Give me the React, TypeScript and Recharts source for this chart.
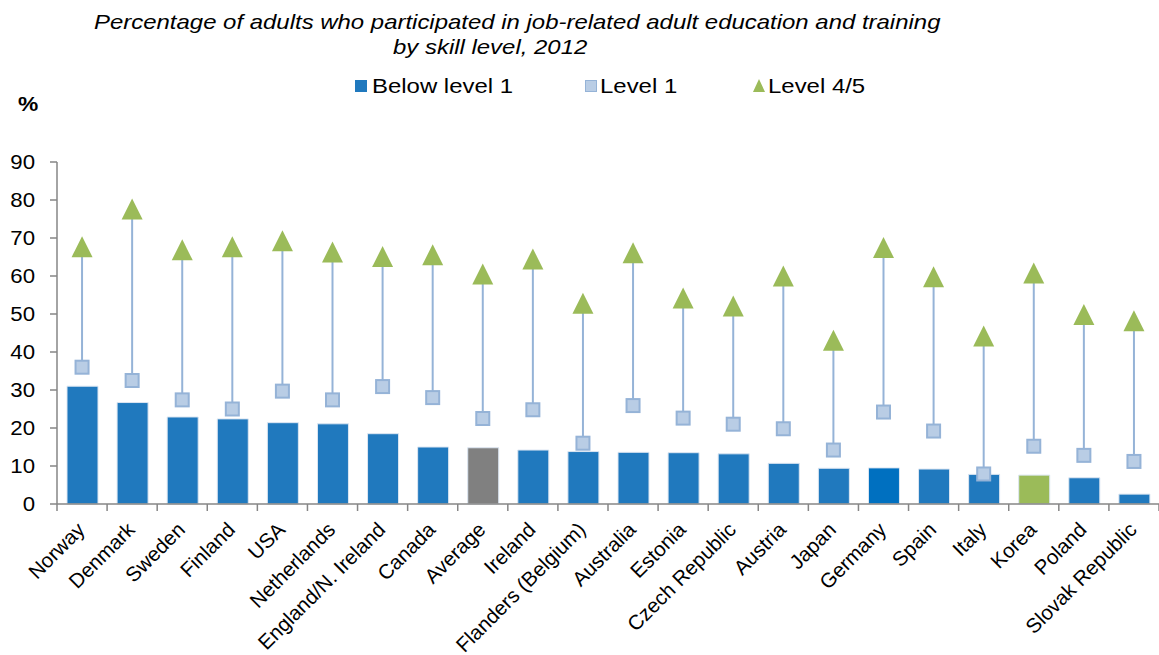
import { ComposedChart, Bar, Line, XAxis, YAxis, ErrorBar, Cell } from 'recharts';

const categories = [
  'Norway', 'Denmark', 'Sweden', 'Finland', 'USA', 'Netherlands', 'England/N. Ireland',
  'Canada', 'Average', 'Ireland', 'Flanders (Belgium)', 'Australia', 'Estonia',
  'Czech Republic', 'Austria', 'Japan', 'Germany', 'Spain', 'Italy', 'Korea', 'Poland',
  'Slovak Republic',
];
const belowLevel1 = [31.0, 26.7, 22.9, 22.4, 21.4, 21.1, 18.5, 15.0, 14.8, 14.2, 13.8, 13.6, 13.5, 13.2, 10.7, 9.4, 9.5, 9.2, 7.8, 7.6, 6.9, 2.6];
const level1 = [36.0, 32.5, 27.4, 25.0, 29.7, 27.4, 30.9, 28.0, 22.5, 24.8, 16.0, 25.9, 22.6, 21.0, 19.8, 14.2, 24.2, 19.2, 7.9, 15.2, 12.8, 11.2];
const level45 = [67.7, 77.6, 66.9, 67.7, 69.3, 66.3, 65.1, 65.6, 60.5, 64.5, 52.8, 66.1, 54.2, 52.1, 60.0, 43.1, 67.5, 59.8, 44.2, 60.8, 49.9, 48.2];
const yTicks = [0, 10, 20, 30, 40, 50, 60, 70, 80, 90];

const data = categories.map((name, i) => ({
  name,
  below: belowLevel1[i],
  l1: level1[i],
  l45: level45[i],
}));

const FONT = '"Liberation Sans", Arial, sans-serif';
const BLUE = '#2079BE';
const highlight: Record<string, string> = { Average: '#808080', Germany: '#0070C0', Korea: '#9BBB59' };

const W = 1159;
const H = 655;
const LEFT = 57;
const AXIS_Y = 504;
const BAND = (W - LEFT) / categories.length;
const STRETCH = 1.14; // the source text is a bit wide

function XTick(props: any) {
  const { x, payload, index } = props;
  const px = x + 4;
  const py = AXIS_Y + 27;
  return (
    <g>
      <line x1={x - BAND / 2} x2={x - BAND / 2} y1={AXIS_Y} y2={AXIS_Y + 7} stroke="#868686" strokeWidth={1.5} />
      {index === categories.length - 1 && (
        <line x1={x + BAND / 2} x2={x + BAND / 2} y1={AXIS_Y} y2={AXIS_Y + 7} stroke="#868686" strokeWidth={1.5} />
      )}
      <text
        x={px}
        y={py}
        textAnchor="end"
        fontSize={20.5}
        fontFamily={FONT}
        fill="#000"
        transform={`rotate(-45, ${px}, ${py})`}
      >
        {payload.value}
      </text>
    </g>
  );
}

function YTick(props: any) {
  const { y, payload } = props;
  return (
    <g transform={`translate(${LEFT - 22}, ${y + 7}) scale(${STRETCH}, 1)`}>
      <text x={0} y={0} textAnchor="end" fontSize={19.5} fontFamily={FONT} fill="#000">
        {payload.value}
      </text>
    </g>
  );
}

function SquareDot(props: any) {
  const { cx, cy, index } = props;
  return <rect key={`s${index}`} x={cx - 6.5} y={cy - 6.5} width={13} height={13} fill="#B9CDE5" stroke="#95B3D7" strokeWidth={2} />;
}

function TriDot(props: any) {
  const { cx, cy, index } = props;
  return (
    <path
      key={`t${index}`}
      d={`M${cx},${cy - 10.5} L${cx + 10.5},${cy + 10.5} L${cx - 10.5},${cy + 10.5} Z`}
      fill="#9BBB59"
    />
  );
}

const wide = { display: 'inline-block', transform: `scaleX(${STRETCH})`, transformOrigin: 'left' } as const;

export default function App() {
  return (
    <div style={{ position: 'absolute', left: 0, top: 0, width: W, height: H, fontFamily: FONT, background: '#fff' }}>
      <div style={{ position: 'absolute', left: 94, top: 11, fontSize: 21, fontStyle: 'italic', lineHeight: '22px', whiteSpace: 'nowrap' }}>
        <span style={wide}>Percentage of adults who participated in job-related adult education and training</span>
      </div>
      <div style={{ position: 'absolute', left: 393, top: 36, fontSize: 21, fontStyle: 'italic', lineHeight: '22px', whiteSpace: 'nowrap' }}>
        <span style={wide}>by skill level, 2012</span>
      </div>
      <div style={{ position: 'absolute', left: 18, top: 93, fontSize: 20, fontWeight: 'bold', lineHeight: '22px' }}>
        <span style={wide}>%</span>
      </div>
      <div style={{ position: 'absolute', left: 0, top: 75, fontSize: 21, lineHeight: '22px', whiteSpace: 'nowrap' }}>
        <span style={{ position: 'absolute', left: 355, top: 5, width: 12, height: 12, background: BLUE }} />
        <span style={{ ...wide, position: 'absolute', left: 372 }}>Below level 1</span>
        <span style={{ position: 'absolute', left: 585, top: 5, width: 10, height: 10, background: '#B9CDE5', border: '1px solid #95B3D7' }} />
        <span style={{ ...wide, position: 'absolute', left: 600 }}>Level 1</span>
        <svg style={{ position: 'absolute', left: 753, top: 4 }} width={12} height={13}>
          <path d="M6,0 L12,13 L0,13 Z" fill="#9BBB59" />
        </svg>
        <span style={{ ...wide, position: 'absolute', left: 768 }}>Level 4/5</span>
      </div>
      <ComposedChart width={W} height={H} data={data} margin={{ top: 162, right: 0, bottom: 0, left: 0 }}>
        <XAxis
          dataKey="name"
          interval={0}
          height={H - AXIS_Y}
          axisLine={{ stroke: '#868686', strokeWidth: 1.5 }}
          tickLine={false}
          tick={<XTick />}
        />
        <YAxis
          width={LEFT}
          domain={[0, 90]}
          ticks={yTicks}
          interval={0}
          axisLine={{ stroke: '#868686', strokeWidth: 1.5 }}
          tickLine={{ stroke: '#868686', strokeWidth: 1.5 }}
          tickSize={7}
          tick={<YTick />}
        />
        <Bar dataKey="below" barSize={31} isAnimationActive={false} stroke="#DCE6F2" strokeWidth={1}>
          {data.map((d) => (
            <Cell key={d.name} fill={highlight[d.name] ?? BLUE} />
          ))}
        </Bar>
        <Line dataKey="l1" stroke="none" dot={SquareDot} activeDot={false} isAnimationActive={false}>
          <ErrorBar
            dataKey={(d: any) => [0, d.l45 - d.l1]}
            direction="y"
            width={0}
            stroke="#95B3D7"
            strokeWidth={2}
          />
        </Line>
        <Line dataKey="l45" stroke="none" dot={TriDot} activeDot={false} isAnimationActive={false} />
      </ComposedChart>
    </div>
  );
}
